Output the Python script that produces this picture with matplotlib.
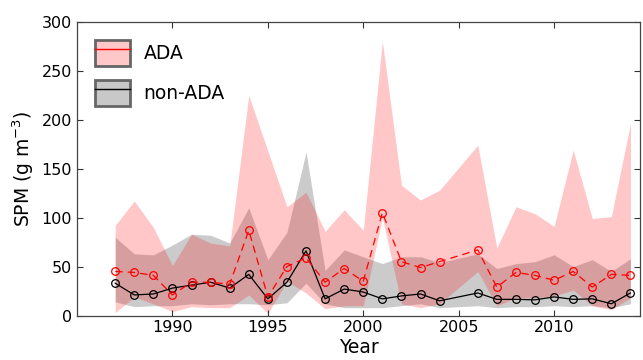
import matplotlib
matplotlib.use("Agg")
import matplotlib.pyplot as plt
from matplotlib.patches import Patch
from matplotlib.lines import Line2D
from matplotlib.legend_handler import HandlerTuple

# sampling years (no data in 2005)
years = [1987, 1988, 1989, 1990, 1991, 1992, 1993, 1994, 1995, 1996, 1997, 1998,
         1999, 2000, 2001, 2002, 2003, 2004, 2006, 2007, 2008, 2009, 2010, 2011,
         2012, 2013, 2014]

# ADA stations: mean and range
ada_mean = [45, 44, 41, 21, 34, 34, 32, 87, 19, 50, 59, 34,
            48, 35, 105, 55, 49, 55, 67, 29, 44, 41, 36, 45,
            29, 42, 41]
ada_hi = [92, 117, 90, 51, 83, 74, 71, 225, 168, 111, 126, 86,
          108, 87, 280, 133, 118, 128, 174, 69, 111, 104, 91, 169,
          99, 101, 196]
ada_lo = [3, 19, 12, 4, 9, 8, 8, 21, 2, 35, 23, 7,
          10, 10, 100, 12, 8, 12, 45, 10, 18, 18, 20, 26,
          10, 6, 18]

# non-ADA stations: mean and range
non_mean = [33, 21, 22, 28, 31, 34, 28, 42, 17, 34, 66, 17,
            27, 24, 17, 20, 22, 15, 23, 16.5, 16.5, 16, 19, 16.5,
            17, 12, 23]
non_hi = [80, 63, 62, 72, 83, 82, 74, 110, 57, 85, 167, 46,
          67, 60, 53, 60, 60, 54, 63, 48, 53, 55, 62, 50,
          57, 45, 58]
non_lo = [14, 9, 10, 10, 12, 11, 12, 12, 11, 13, 33, 12,
          8, 8, 8, 10, 12, 8, 10, 8, 9, 9, 10, 9,
          10, 8, 12]

xticks = [1990, 1995, 2000, 2005, 2010]
yticks = [0, 50, 100, 150, 200, 250, 300]

plt.rcParams['font.family'] = ['DejaVu Sans']

fig = plt.figure(figsize=(6.43, 3.6), dpi=100)
ax = fig.add_axes([0.1198, 0.1236, 0.8755, 0.8158])

gray_fc = (0.6, 0.6, 0.6, 0.5)
pink_fc = (1.0, 0.0, 0.0, 0.22)

ax.fill_between(years, non_lo, non_hi, color=gray_fc, lw=0)
ax.fill_between(years, ada_lo, ada_hi, color=pink_fc, lw=0)

ax.plot(years, non_mean, color='black', lw=0.9, marker='o', ms=5.5,
        mfc='none', mec='black', mew=0.9)
ax.plot(years, ada_mean, color='red', lw=0.9, ls=(0, (6, 4)), marker='o', ms=5.5,
        mfc='none', mec='red', mew=0.9)

ax.set_xlim(1985, 2014.5)
ax.set_ylim(0, 300)
ax.set_xticks(xticks)
ax.set_yticks(yticks)
ax.tick_params(direction='in', length=4, width=0.8, colors='#333333',
               labelcolor='black', labelsize=11.5, top=True, right=True)
for s in ax.spines.values():
    s.set_color('#444444')
    s.set_linewidth(0.9)

ax.set_xlabel('Year', fontsize=13.5, labelpad=2)
ax.set_ylabel('SPM (g m$^{-3}$)', fontsize=13.5, labelpad=4)

h_ada = (Patch(facecolor='#ffc8c8', edgecolor='#666666', lw=2),
         Line2D([], [], color='red', lw=1))
h_non = (Patch(facecolor='#c8c8c8', edgecolor='#666666', lw=2),
         Line2D([], [], color='black', lw=1))
leg = ax.legend([h_ada, h_non], ['ADA', 'non-ADA'],
                handler_map={tuple: HandlerTuple(ndivide=1, pad=0)},
                loc='upper left', bbox_to_anchor=(0.0, 1.0), frameon=False,
                fontsize=13.5, handlelength=1.9, handleheight=1.75,
                labelspacing=0.75, handletextpad=0.7, borderaxespad=0.55)

fig.savefig('out.png', dpi=100)
